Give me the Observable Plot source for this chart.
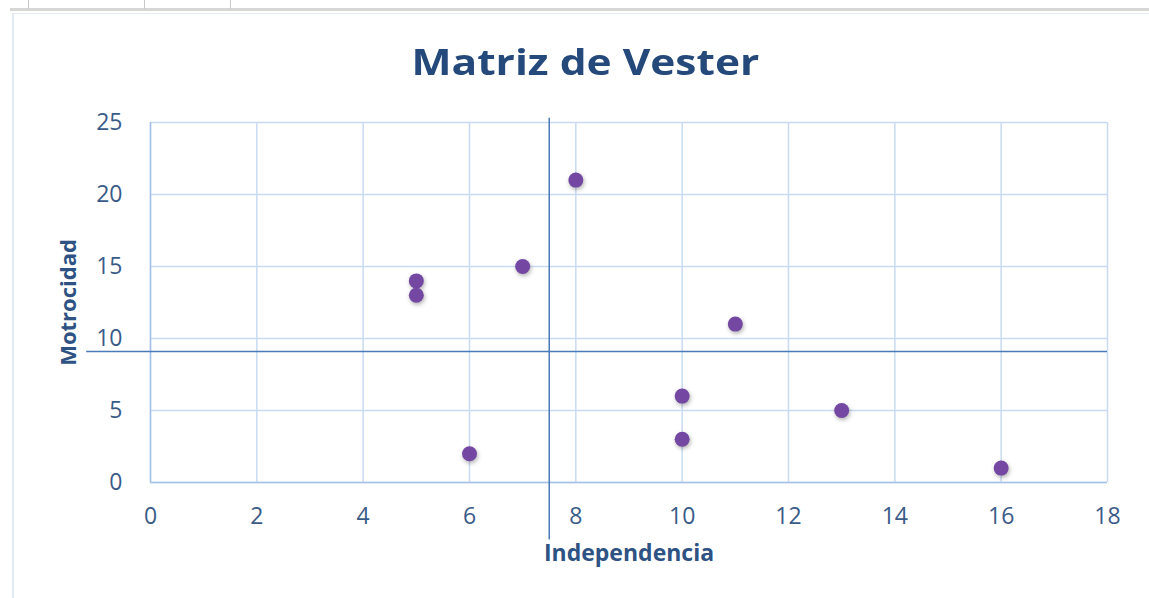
<!DOCTYPE html>
<html>
<head>
<meta charset="utf-8">
<script src="https://cdn.jsdelivr.net/npm/d3@7"></script>
<script src="https://cdn.jsdelivr.net/npm/@observablehq/plot@0.6"></script>
<style>
  html, body { margin: 0; padding: 0; background: #fff; }
  #page { position: relative; width: 1149px; height: 598px; overflow: hidden; background: #fff; }
  .deco { position: absolute; }
  #title { position: absolute; left: 0; top: 0; width: 1170px; height: 100px; line-height: 124px;
           text-align: center; font-family: "Open Sans", sans-serif; font-weight: 700; font-size: 36px; color: #24497A; }
  #title span { display: inline-block; transform: scaleX(1.18); }
  #chart { position: absolute; left: 0; top: 100px; }
  #chart svg circle { filter: drop-shadow(1px 2px 2px rgba(0,0,0,0.3)); }
</style>
</head>
<body>
<div id="page">
  <div class="deco" style="left:10px;top:8px;width:1139px;height:3px;background:#D6D6D6"></div>
  <div class="deco" style="left:12px;top:13px;width:1137px;height:1px;background:#E3EAF4"></div>
  <div class="deco" style="left:12px;top:13px;width:2px;height:585px;background:#E3EAF4"></div>
  <div class="deco" style="left:28px;top:0;width:1px;height:9px;background:#C8C8C8"></div>
  <div class="deco" style="left:144px;top:0;width:1px;height:9px;background:#C8C8C8"></div>
  <div class="deco" style="left:230px;top:0;width:1px;height:9px;background:#C8C8C8"></div>
  <div id="title"><span>Matriz de Vester</span></div>
  <div id="chart"></div>
</div>
<script>
// Data
const independencia = [5, 5, 7, 8, 6, 10, 10, 11, 13, 16];
const motricidad    = [14, 13, 15, 21, 2, 6, 3, 11, 5, 1];
const xTicks = [0, 2, 4, 6, 8, 10, 12, 14, 16, 18];
const yTicks = [0, 5, 10, 15, 20, 25];
const umbralX = 7.5;          // vertical divider (Independencia)
const umbralY = 9.1;          // horizontal divider (Motricidad)
const ruleXExtent = [-4, 25.3];
const ruleYExtent = [-1.2, 18];
const xLabel = "Independencia";
const yLabel = "Motrocidad";

const points = independencia.map((x, i) => ({x, y: motricidad[i]}));

const tickColor = "#3A5B88";
const labelColor = "#2E5283";
const gridColor = "#C9DBF2";
const ruleColor = "#4A7AB8";

const chart = Plot.plot({
  width: 1149,
  height: 498,
  marginTop: 22,
  marginBottom: 116,
  marginLeft: 150,
  marginRight: 42,
  style: { fontFamily: "Open Sans, sans-serif", background: "transparent", overflow: "visible" },
  x: { domain: [0, 18], ticks: xTicks, label: null },
  y: { domain: [0, 25], ticks: yTicks, label: null },
  marks: [
    Plot.gridX(xTicks, { stroke: gridColor, strokeOpacity: 1, strokeWidth: 1.5 }),
    Plot.gridY(yTicks, { stroke: gridColor, strokeOpacity: 1, strokeWidth: 1.5 }),
    Plot.ruleX([0], { stroke: "#A6C1E6", strokeWidth: 1.5 }),
    Plot.ruleY([0], { stroke: "#A6C1E6", strokeWidth: 1.5 }),
    Plot.axisX(xTicks, { tickSize: 0, tickPadding: 25, fontSize: 23, fill: tickColor, label: null }),
    Plot.axisY(yTicks, { tickSize: 0, tickPadding: 28, fontSize: 23, fill: tickColor, label: null }),
    Plot.ruleY([umbralY], { x1: ruleYExtent[0], x2: ruleYExtent[1], stroke: ruleColor, strokeWidth: 1.5 }),
    Plot.ruleX([umbralX], { y1: ruleXExtent[0], y2: ruleXExtent[1], stroke: ruleColor, strokeWidth: 1.5 }),
    Plot.dot(points, { x: "x", y: "y", r: 7.5, fill: "#7447A2", stroke: "none" }),
    Plot.text([xLabel], { frameAnchor: "bottom", dy: 71, text: d => d, fontSize: 23, fontWeight: 700, fill: labelColor, textAnchor: "middle", lineAnchor: "middle" }),
    Plot.text([yLabel], { frameAnchor: "left", dx: -82, rotate: -90, text: d => d, fontSize: 22, fontWeight: 700, fill: labelColor, textAnchor: "middle", lineAnchor: "middle" })
  ]
});
document.getElementById("chart").appendChild(chart);
</script>
</body>
</html>
